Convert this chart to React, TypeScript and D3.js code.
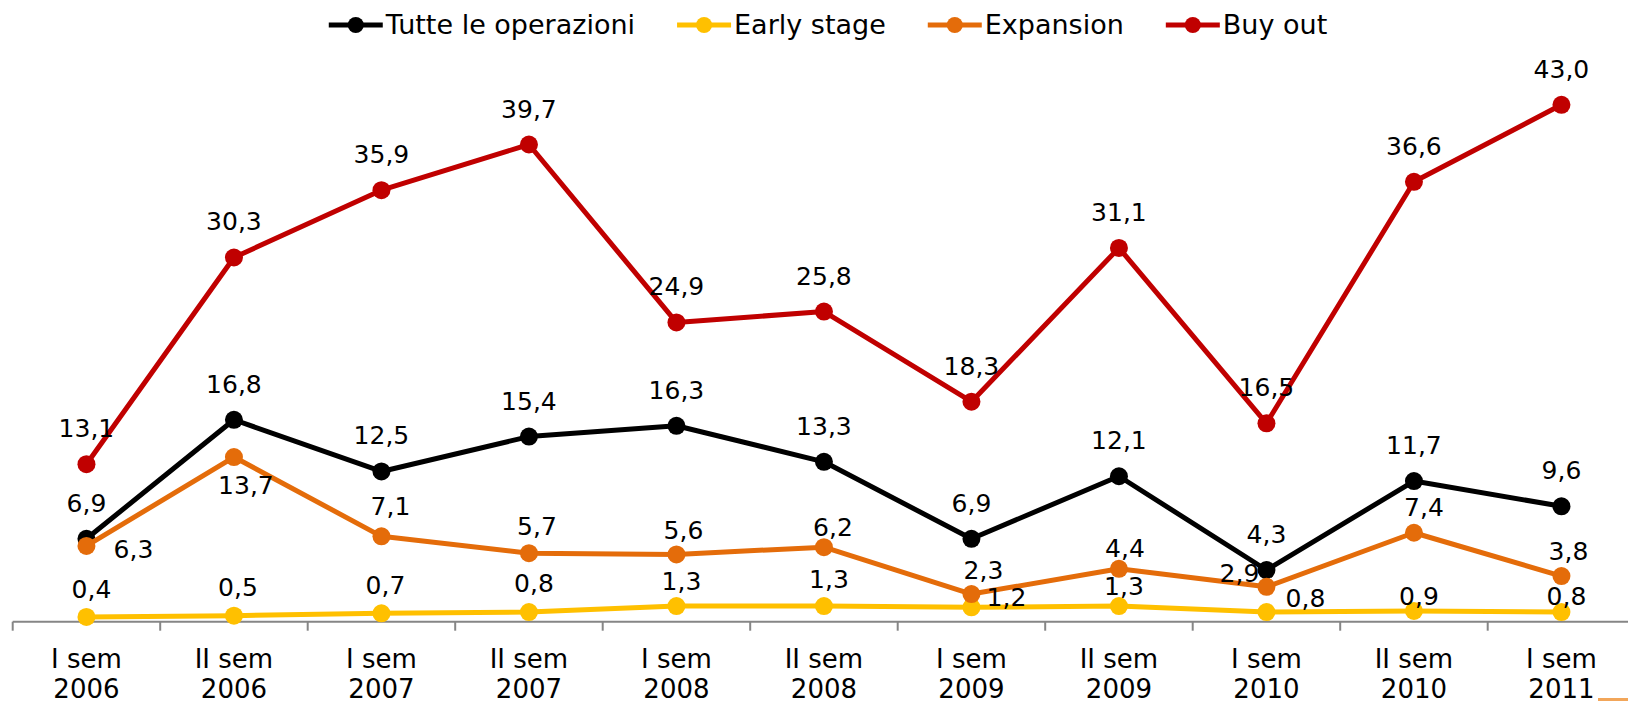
import React from "react";
import * as d3 from "d3";

// ---- data ----
const categories = [
  "I sem\n2006", "II sem\n2006", "I sem\n2007", "II sem\n2007", "I sem\n2008",
  "II sem\n2008", "I sem\n2009", "II sem\n2009", "I sem\n2010", "II sem\n2010", "I sem\n2011",
];
const seriesNames = ["Tutte le operazioni", "Early stage", "Expansion", "Buy out"];
const tutte = [6.9, 16.8, 12.5, 15.4, 16.3, 13.3, 6.9, 12.1, 4.3, 11.7, 9.6];
const earlyStage = [0.4, 0.5, 0.7, 0.8, 1.3, 1.3, 1.2, 1.3, 0.8, 0.9, 0.8];
const expansion = [6.3, 13.7, 7.1, 5.7, 5.6, 6.2, 2.3, 4.4, 2.9, 7.4, 3.8];
const buyOut = [13.1, 30.3, 35.9, 39.7, 24.9, 25.8, 18.3, 31.1, 16.5, 36.6, 43.0];

// ---- styling / layout ----
const colors = ["#000000", "#FFC000", "#E46C0A", "#C00000"];
const W = 1628;
const H = 701;
const FONT = "'DejaVu Sans', Verdana, sans-serif";

// label nudges (dx, dy of baseline relative to point), per series
const labelNudge: [number, number][][] = [
  Array.from({ length: 11 }, () => [0, -27] as [number, number]),
  [[5, -19], [4, -20], [4, -19], [5, -20], [5, -16], [5, -18], [35, -1], [5, -11], [39, -5], [5, -6], [5, -7]],
  [[47, 12], [12, 37], [9, -21], [8, -18], [7, -15], [9, -11], [12, -15], [6, -12], [-27, -5], [10, -17], [7, -16]],
  Array.from({ length: 11 }, () => [0, -27] as [number, number]),
];

const fmt = d3
  .formatLocale({ decimal: ",", thousands: ".", grouping: [3], currency: ["", "€"] })
  .format(".1f");

function measure(text: string, font: string): number {
  const c = document.createElement("canvas").getContext("2d");
  if (!c) return text.length * 14;
  c.font = font;
  return c.measureText(text).width;
}

export default function App() {
  const allSeries = [tutte, earlyStage, expansion, buyOut];

  const x = d3.scaleBand<string>().domain(categories).range([12.7, 1635.2]).paddingInner(0).paddingOuter(0);
  const y = d3.scaleLinear().domain([0, 45]).range([621.7, 621.7 - 45 * 12.02]);
  const cx = (c: string) => (x(c) as number) + x.bandwidth() / 2;

  const line = d3
    .line<number>()
    .x((_, i) => cx(categories[i]))
    .y((d) => y(d));

  const axisY = y(0);
  const tickXs = categories.map((c) => x(c) as number);

  // legend layout
  const legSize = 27;
  const legFont = `${legSize}px ${FONT}`;
  const lineLen = 54;
  const textGap = 3;
  const itemGap = 42;
  const widths = seriesNames.map((n) => measure(n, legFont));
  const total = widths.reduce((a, w) => a + lineLen + textGap + w, 0) + itemGap * (seriesNames.length - 1);
  let lx = 828 - total / 2;
  const legendItems = seriesNames.map((n, i) => {
    const item = { name: n, x: lx, color: colors[i] };
    lx += lineLen + textGap + widths[i] + itemGap;
    return item;
  });

  return (
    <svg
      width={W}
      height={H}
      style={{ position: "absolute", left: 0, top: 0, background: "#fff" }}
      fontFamily={FONT}
    >
      <rect x={0} y={0} width={W} height={H} fill="#fff" />
      {/* axis */}
      <line x1={tickXs[0]} x2={W} y1={axisY} y2={axisY} stroke="#868686" strokeWidth={2} />
      {tickXs.map((tx, i) => (
        <line key={i} x1={tx} x2={tx} y1={axisY} y2={axisY + 9} stroke="#868686" strokeWidth={2} />
      ))}
      {categories.map((c, i) => {
        const [l1, l2] = c.split("\n");
        return (
          <text key={i} x={cx(c)} textAnchor="middle" fontSize={26} fill="#000">
            <tspan x={cx(c)} y={667.5}>{l1}</tspan>
            <tspan x={cx(c)} y={698}>{l2}</tspan>
          </text>
        );
      })}

      {/* series */}
      {allSeries.map((s, si) => (
        <g key={si}>
          <path d={line(s) as string} fill="none" stroke={colors[si]} strokeWidth={5} strokeLinejoin="round" />
          {s.map((v, i) => (
            <circle key={i} cx={cx(categories[i])} cy={y(v)} r={9} fill={colors[si]} />
          ))}
        </g>
      ))}

      {/* data labels */}
      {allSeries.map((s, si) => (
        <g key={si}>
          {s.map((v, i) => (
            <text
              key={i}
              x={cx(categories[i]) + labelNudge[si][i][0]}
              y={y(v) + labelNudge[si][i][1]}
              textAnchor="middle"
              fontSize={25}
              fill="#000"
            >
              {fmt(v)}
            </text>
          ))}
        </g>
      ))}

      {/* legend */}
      {legendItems.map((it, i) => (
        <g key={i}>
          <line x1={it.x} x2={it.x + lineLen} y1={25} y2={25} stroke={it.color} strokeWidth={5} />
          <circle cx={it.x + lineLen / 2} cy={25} r={8} fill={it.color} />
          <text x={it.x + lineLen + textGap} y={34} fontSize={legSize} fill="#000">
            {it.name}
          </text>
        </g>
      ))}

      {/* clipped fragment at bottom-right */}
      <rect x={1598} y={698} width={30} height={3} fill="#F2A65A" />
    </svg>
  );
}
